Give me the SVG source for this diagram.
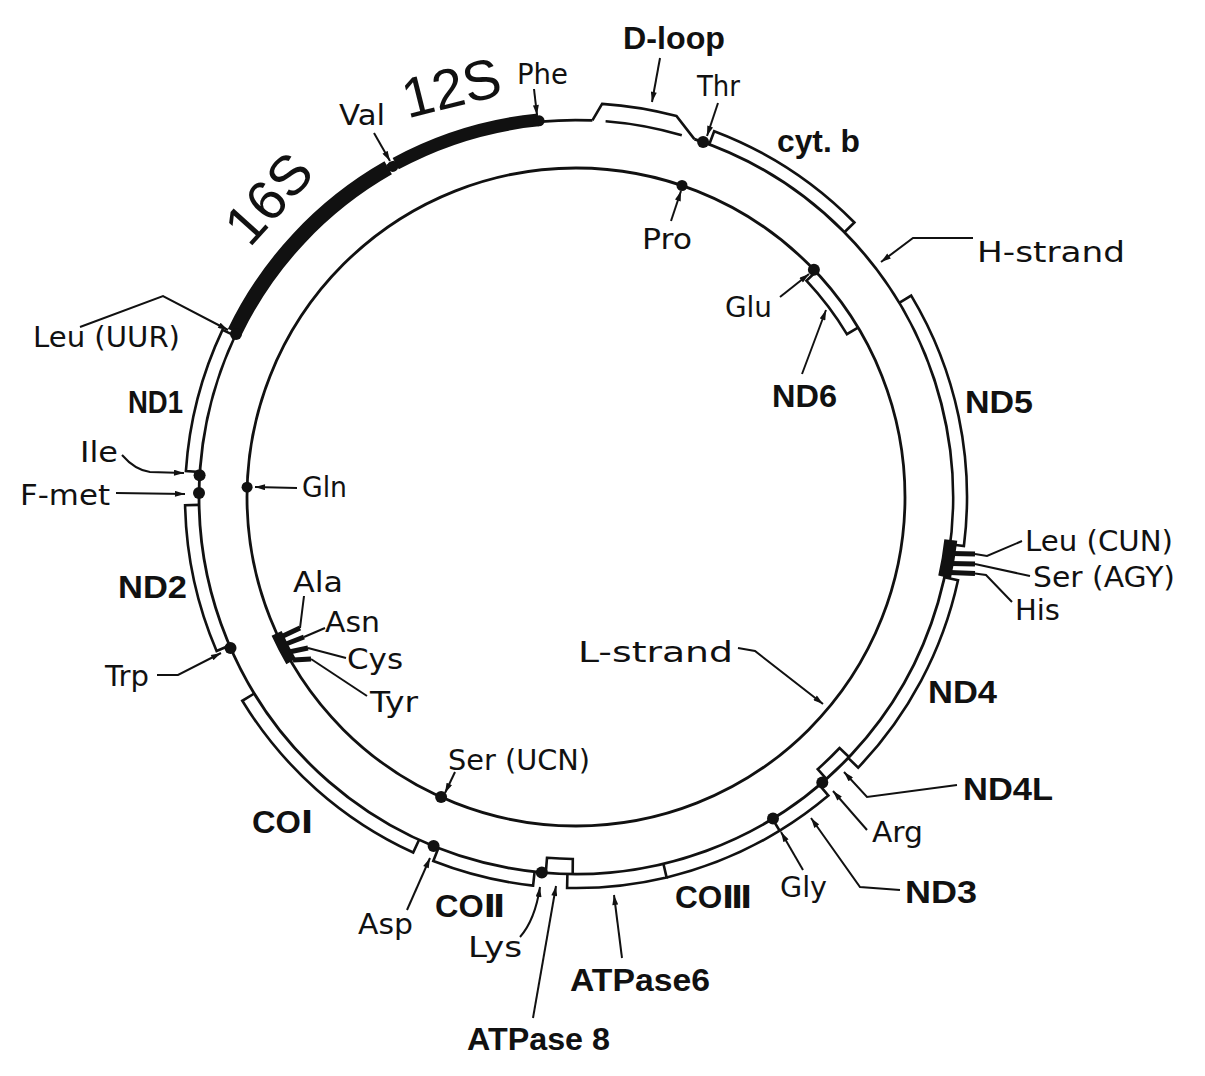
<svg xmlns="http://www.w3.org/2000/svg" width="1205" height="1076" viewBox="0 0 1205 1076">
<defs>
<style>
.c{fill:none;stroke:#111;stroke-width:2.8}
.bx{fill:none;stroke:#111;stroke-width:2.6;stroke-linejoin:miter}
.p{fill:none;stroke:#111;stroke-width:2}
.st{fill:none;stroke:#111;stroke-width:5}
.d{fill:#111}
.t{font-family:"DejaVu Sans","Liberation Sans",sans-serif;font-size:29px;fill:#111}
.b{font-family:"Liberation Sans","DejaVu Sans",sans-serif;font-weight:bold;font-size:32px;fill:#111}
.big{font-family:"Liberation Sans","DejaVu Sans",sans-serif;font-size:56px;fill:#111}
</style>
<marker id="ah" viewBox="0 0 10 6" refX="10" refY="3" markerWidth="11" markerHeight="6" markerUnits="userSpaceOnUse" orient="auto">
<path d="M0,0 L10,3 L0,6 z" fill="#111"/>
</marker>
</defs>
<rect width="1205" height="1076" fill="#fff"/>

<g id="H-strand">
<path class="c" d="M694.4 139.1 A377 377 0 1 1 592.4 120.4"/>
<text class="t" x="977" y="262" font-size="35" textLength="148" lengthAdjust="spacingAndGlyphs">H-strand</text>
</g>
<g id="L-strand">
<circle class="c" cx="576" cy="497" r="329" stroke-width="2.4"/>
<text class="t" x="578" y="662" font-size="36" textLength="155" lengthAdjust="spacingAndGlyphs">L-strand</text>
</g>

<g id="D-loop">
<path class="bx" d="M592.4 120.4 L602.1 103.9 A394 394 0 0 1 676.6 116.1 L694.4 139.1"/>
<path class="bx" d="M605.6 121.2 A377 377 0 0 1 681.8 135.2"/>
<text class="b" x="623" y="49" font-size="29" textLength="102" lengthAdjust="spacingAndGlyphs">D-loop</text>
</g>

<g id="rRNA-16S">
<path d="M234.7 332.0 A379 379 0 0 1 388.2 167.8" fill="none" stroke="#111" stroke-width="15"/>
<text class="big" transform="translate(268,198) rotate(-48)" x="0" y="20" text-anchor="middle">16S</text>
</g>
<g id="rRNA-12S">
<path d="M388.2 167.8 A379 379 0 0 1 395.7 163.6" fill="none" stroke="#111" stroke-width="7"/>
<path d="M395.7 163.6 A379 379 0 0 1 538.4 119.9" fill="none" stroke="#111" stroke-width="13"/>
<text class="big" transform="translate(451,87) rotate(-14)" x="0" y="20" text-anchor="middle">12S</text>
</g>

<g id="tRNA-Phe"><circle class="d" cx="539.1" cy="120.8" r="5.5"/><text class="t" x="517" y="84" textLength="51" lengthAdjust="spacingAndGlyphs">Phe</text></g>
<g id="tRNA-Val"><circle class="d" cx="392.7" cy="166.4" r="5.5"/><text class="t" x="339" y="125" textLength="46" lengthAdjust="spacingAndGlyphs">Val</text></g>
<g id="tRNA-Thr"><circle class="d" cx="703.1" cy="142.1" r="6"/><text class="t" x="697" y="96" textLength="43" lengthAdjust="spacingAndGlyphs">Thr</text></g>
<g id="tRNA-Pro"><circle class="d" cx="682.0" cy="185.5" r="5.5"/><text class="t" x="642" y="249" textLength="50" lengthAdjust="spacingAndGlyphs">Pro</text></g>
<g id="tRNA-Glu"><circle class="d" cx="813.9" cy="269.7" r="6"/><text class="t" x="725" y="317" textLength="47" lengthAdjust="spacingAndGlyphs">Glu</text></g>
<g id="tRNA-LeuUUR"><circle class="d" cx="236.0" cy="334.0" r="6"/><text class="t" x="33" y="347" font-size="28" textLength="147" lengthAdjust="spacingAndGlyphs">Leu (UUR)</text></g>
<g id="tRNA-Ile"><circle class="d" cx="199.6" cy="475.3" r="6"/><text class="t" x="80" y="462" font-size="27" textLength="38" lengthAdjust="spacingAndGlyphs">Ile</text></g>
<g id="tRNA-Fmet"><circle class="d" cx="199.0" cy="493.1" r="6"/><text class="t" x="20" y="505" font-size="28" textLength="90" lengthAdjust="spacingAndGlyphs">F-met</text></g>
<g id="tRNA-Gln"><circle class="d" cx="247.1" cy="487.2" r="5.5"/><text class="t" x="302" y="497" font-size="27" textLength="45" lengthAdjust="spacingAndGlyphs">Gln</text></g>
<g id="tRNA-Trp"><circle class="d" cx="230.5" cy="647.9" r="6"/><text class="t" x="105" y="686" textLength="44" lengthAdjust="spacingAndGlyphs">Trp</text></g>
<g id="tRNA-cluster-AlaAsnCysTyr">
<path d="M276.6 633.4 A329 329 0 0 0 291.1 661.5" fill="none" stroke="#111" stroke-width="11"/>
<line class="st" x1="283" y1="636" x2="300" y2="628" stroke-width="4"/>
<line class="st" x1="286" y1="644" x2="304" y2="637" stroke-width="4"/>
<line class="st" x1="289" y1="652" x2="308" y2="648" stroke-width="4"/>
<line class="st" x1="293" y1="660" x2="311" y2="659" stroke-width="4"/>
<text class="t" x="293" y="592" textLength="50" lengthAdjust="spacingAndGlyphs">Ala</text>
<text class="t" x="325" y="632" textLength="55" lengthAdjust="spacingAndGlyphs">Asn</text>
<text class="t" x="347" y="669" textLength="56" lengthAdjust="spacingAndGlyphs">Cys</text>
<text class="t" x="370" y="712" textLength="48" lengthAdjust="spacingAndGlyphs">Tyr</text>
</g>
<g id="tRNA-SerUCN"><circle class="d" cx="441.1" cy="797.1" r="6"/><text class="t" x="448" y="770" textLength="142" lengthAdjust="spacingAndGlyphs">Ser (UCN)</text></g>
<g id="tRNA-Asp"><circle class="d" cx="433.6" cy="846.1" r="6"/><text class="t" x="358" y="934" textLength="55" lengthAdjust="spacingAndGlyphs">Asp</text></g>
<g id="tRNA-Lys"><circle class="d" cx="541.8" cy="872.4" r="6"/><text class="t" x="468" y="957" textLength="54" lengthAdjust="spacingAndGlyphs">Lys</text></g>
<g id="tRNA-Gly"><circle class="d" cx="773.0" cy="818.4" r="6"/><text class="t" x="780" y="897" textLength="47" lengthAdjust="spacingAndGlyphs">Gly</text></g>
<g id="tRNA-Arg"><circle class="d" cx="822.3" cy="782.4" r="6"/><text class="t" x="872" y="842" textLength="51" lengthAdjust="spacingAndGlyphs">Arg</text></g>
<g id="tRNA-cluster-HisSerLeu">
<path d="M950.8 540 A373 373 0 0 1 944.6 577" fill="none" stroke="#111" stroke-width="13"/>
<line class="st" x1="952" y1="553.5" x2="975" y2="554" stroke-width="6"/>
<line class="st" x1="951" y1="563.5" x2="975" y2="564" stroke-width="6"/>
<line class="st" x1="950" y1="572.5" x2="975" y2="573.5" stroke-width="5"/>
<text class="t" x="1025" y="551" font-size="29" textLength="148" lengthAdjust="spacingAndGlyphs">Leu (CUN)</text>
<text class="t" x="1033" y="587" font-size="29" textLength="142" lengthAdjust="spacingAndGlyphs">Ser (AGY)</text>
<text class="t" x="1015" y="620" textLength="45" lengthAdjust="spacingAndGlyphs">His</text>
</g>

<g id="gene-cytb">
<path class="bx" d="M709.3 144.3 L714.2 131.2 A391 391 0 0 1 854.4 222.5 L844.4 232.3"/>
<text class="b" x="777" y="152" font-size="29" textLength="83" lengthAdjust="spacingAndGlyphs">cyt. b</text>
</g>
<g id="gene-ND6">
<path class="bx" d="M815.8 271.8 L806.4 280.7 A316 316 0 0 1 846.9 334.2 L858.0 327.6"/>
<text class="b" x="772" y="407" textLength="65" lengthAdjust="spacingAndGlyphs">ND6</text>
</g>
<g id="gene-ND5">
<path class="bx" d="M899.2 302.8 L911.2 295.6 A391 391 0 0 1 963.9 546.0 L950.0 544.3"/>
<text class="b" x="965" y="413" textLength="68" lengthAdjust="spacingAndGlyphs">ND5</text>
</g>
<g id="gene-ND4">
<path class="bx" d="M848.1 757.9 L858.2 767.6 A391 391 0 0 0 958.0 580.3 L944.3 577.3"/>
<text class="b" x="928" y="703" textLength="69" lengthAdjust="spacingAndGlyphs">ND4</text>
</g>
<g id="gene-ND4L">
<path class="bx" d="M826.3 778.9 L817.7 769.2 A364 364 0 0 0 839.6 748.0 L849.0 757.0"/>
<text class="b" x="963" y="800" font-size="33" textLength="90" lengthAdjust="spacingAndGlyphs">ND4L</text>
</g>
<g id="gene-ND3">
<path class="bx" d="M779.7 830.7 A391 391 0 0 0 828.4 795.6 L819.3 784.9"/>
<text class="b" x="905" y="903" textLength="72" lengthAdjust="spacingAndGlyphs">ND3</text>
</g>
<g id="gene-COIII">
<path class="bx" d="M666.6 877.4 A391 391 0 0 0 779.7 830.7 L772.4 818.8"/>
<text class="b" x="675" y="908" textLength="77" lengthAdjust="spacingAndGlyphs">COⅢ</text>
</g>
<g id="gene-ATPase6">
<path class="bx" d="M567.4 873.9 L567.1 887.9 A391 391 0 0 0 666.6 877.4 L663.4 863.7"/>
<text class="b" x="570" y="991" textLength="140" lengthAdjust="spacingAndGlyphs">ATPase6</text>
</g>
<g id="gene-ATPase8">
<path class="bx" d="M545.8 872.8 L547.0 857.8 A362 362 0 0 0 572.8 859.0 L572.7 874.0"/>
<text class="b" x="467" y="1050" textLength="143" lengthAdjust="spacingAndGlyphs">ATPase 8</text>
</g>
<g id="gene-COII">
<path class="bx" d="M438.4 848.0 L433.3 861.0 A391 391 0 0 0 533.1 885.6 L534.6 871.7"/>
<text class="b" x="435" y="917" textLength="70" lengthAdjust="spacingAndGlyphs">COⅡ</text>
</g>
<g id="gene-COI">
<path class="bx" d="M254.3 693.5 L242.3 700.8 A391 391 0 0 0 413.2 852.5 L419.1 839.8"/>
<text class="b" x="252" y="833" textLength="61" lengthAdjust="spacingAndGlyphs">COⅠ</text>
</g>
<g id="gene-ND2">
<path class="bx" d="M229.5 645.5 L216.6 651.0 A391 391 0 0 1 185.1 505.2 L199.1 504.9"/>
<text class="b" x="118" y="598" textLength="69" lengthAdjust="spacingAndGlyphs">ND2</text>
</g>
<g id="gene-ND1">
<path class="bx" d="M199.8 472.0 L185.9 471.1 A391 391 0 0 1 222.5 329.9 L235.2 335.9"/>
<text class="b" x="128" y="413" textLength="55" lengthAdjust="spacingAndGlyphs">ND1</text>
</g>

<g id="connectors">
<path class="p" marker-end="url(#ah)" d="M660 58 L652 102"/>
<path class="p" marker-end="url(#ah)" d="M534 89 L537 115"/>
<path class="p" marker-end="url(#ah)" d="M374 133 L390 161"/>
<path class="p" marker-end="url(#ah)" d="M718 103 L707 136"/>
<path class="p" marker-end="url(#ah)" d="M671 221 L681 191"/>
<path class="p" marker-end="url(#ah)" d="M780 297 L809 274"/>
<path class="p" marker-end="url(#ah)" d="M802 374 L826 310"/>
<path class="p" marker-end="url(#ah)" d="M973 238 L913 238 L881 262"/>
<path class="p" d="M975 554 L987 556 L1022 541"/>
<path class="p" d="M975 564 L1030 576"/>
<path class="p" d="M975 573.5 L986 575 L1012 602"/>
<path class="p" marker-end="url(#ah)" d="M738 648 L755 651 L823 704"/>
<path class="p" marker-end="url(#ah)" d="M957 785 L867 797 L844 772"/>
<path class="p" marker-end="url(#ah)" d="M867 830 L833 791"/>
<path class="p" marker-end="url(#ah)" d="M900 890 L860 887 L811 818"/>
<path class="p" marker-end="url(#ah)" d="M803 870 L781 832"/>
<path class="p" marker-end="url(#ah)" d="M622 958 L614 895"/>
<path class="p" marker-end="url(#ah)" d="M533 1018 L556 886"/>
<path class="p" marker-end="url(#ah)" d="M520 937 Q535 920 540 887"/>
<path class="p" marker-end="url(#ah)" d="M407 910 L430 858"/>
<path class="p" marker-end="url(#ah)" d="M455 772 L445 793"/>
<path class="p" marker-end="url(#ah)" d="M157 675 L178 675 L221 653"/>
<path class="p" d="M300 628 L304 596"/>
<path class="p" d="M304 637 L325 628"/>
<path class="p" d="M308 648 L346 658"/>
<path class="p" d="M311 659 L367 696"/>
<path class="p" marker-end="url(#ah)" d="M297 488 L255 487"/>
<path class="p" marker-end="url(#ah)" d="M116 493 L185 494"/>
<path class="p" marker-end="url(#ah)" d="M122 455 Q135 470 150 472 L184 473"/>
<path class="p" marker-end="url(#ah)" d="M80 327 L163 296 L228 330"/>
</g>
</svg>
